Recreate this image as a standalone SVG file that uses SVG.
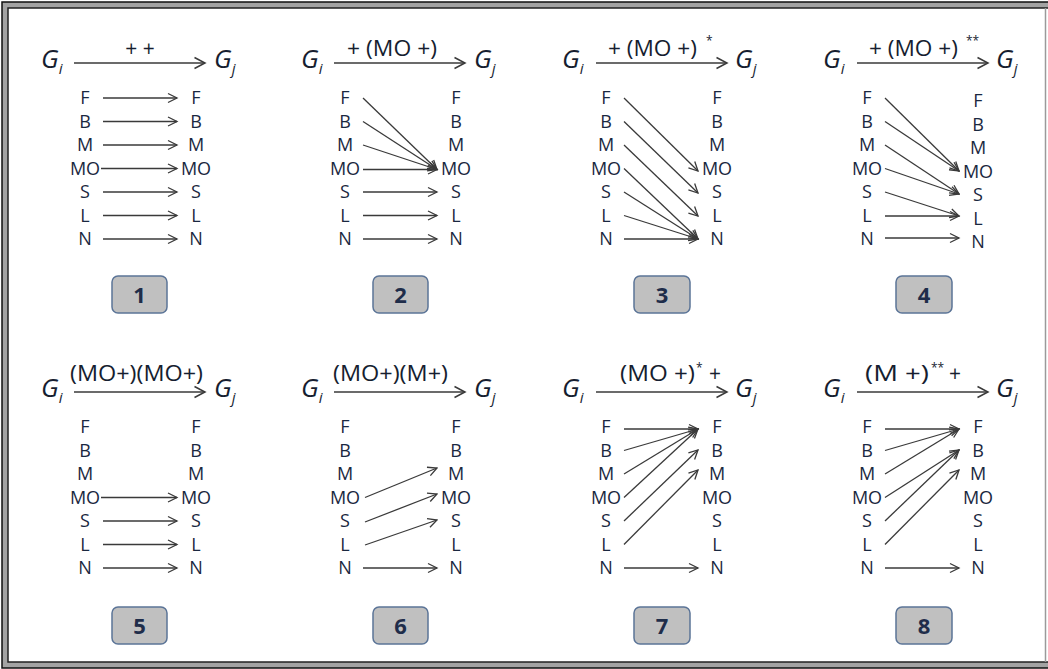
<svg xmlns="http://www.w3.org/2000/svg" width="1048" height="669" viewBox="0 0 1048 669">
<style>
.lt{font-family:"Open Sans","Liberation Sans",sans-serif;font-size:18px;fill:#1a2840;text-anchor:middle}
.g{font-family:"Open Sans","Liberation Sans",sans-serif;font-size:26px;font-style:italic;fill:#161e30}
.sub{font-size:15px}
.lab{font-family:"Open Sans","Liberation Sans",sans-serif;font-size:21px;fill:#161e30}
.sup{font-family:"Open Sans","Liberation Sans",sans-serif;font-size:12px;fill:#161e30}
.box{fill:#c0c0c0;stroke:#5b7497;stroke-width:1.5}
.num{font-family:"Open Sans","Liberation Sans",sans-serif;font-size:22px;font-weight:bold;fill:#1f2d4a;text-anchor:middle}
.c{stroke:#3a3a3a;stroke-width:1.3;fill:none;marker-end:url(#ah)}
.m{stroke:#3a3a3a;stroke-width:1.5;fill:none;marker-end:url(#ahm)}
</style>
<defs>
<marker id="ah" markerUnits="userSpaceOnUse" viewBox="0 0 12 12" refX="10.5" refY="6" markerWidth="12" markerHeight="12" orient="auto">
<path d="M1.5,1.5 L10.5,6 L1.5,10.5" fill="none" stroke="#3a3a3a" stroke-width="1.3"/>
</marker>
<marker id="ahm" markerUnits="userSpaceOnUse" viewBox="0 0 14 14" refX="12" refY="7" markerWidth="14" markerHeight="14" orient="auto">
<path d="M1.5,1.5 L12,7 L1.5,12.5" fill="none" stroke="#3a3a3a" stroke-width="1.5"/>
</marker>
</defs>
<rect x="0" y="0" width="1048" height="669" fill="#ffffff"/>
<g id="frame">
<rect x="5" y="5" width="1100" height="660" fill="none" stroke="#a3a3a3" stroke-width="6"/>
<rect x="2" y="2" width="1100" height="666" fill="none" stroke="#111" stroke-width="1.5"/>
<path d="M1048,8 H8 V662 H1048" fill="none" stroke="#222" stroke-width="1.5"/>
<line x1="1045.5" y1="8" x2="1045.5" y2="662" stroke="#9a9a9a" stroke-width="1.5"/>
</g>

<g id="panel1">
<text class="g" x="41" y="68">G<tspan class="sub" dy="6">i</tspan></text>
<text class="g" x="214" y="68">G<tspan class="sub" dy="6">j</tspan></text>
<text class="lab" x="140" y="56" text-anchor="middle">+ +</text>
<text class="lt" x="85" y="104">F</text><text class="lt" x="85" y="127.5">B</text><text class="lt" x="85" y="151">M</text><text class="lt" x="85" y="174.5">MO</text><text class="lt" x="85" y="198">S</text><text class="lt" x="85" y="221.5">L</text><text class="lt" x="85" y="245">N</text>
<text class="lt" x="196" y="104">F</text><text class="lt" x="196" y="127.5">B</text><text class="lt" x="196" y="151">M</text><text class="lt" x="196" y="174.5">MO</text><text class="lt" x="196" y="198">S</text><text class="lt" x="196" y="221.5">L</text><text class="lt" x="196" y="245">N</text>
<rect class="box" x="112" y="276" width="55" height="37" rx="6"/>
<text class="num" x="139.5" y="302.5">1</text>
</g>

<g id="panel2">
<text class="g" x="301" y="68">G<tspan class="sub" dy="6">i</tspan></text>
<text class="g" x="474" y="68">G<tspan class="sub" dy="6">j</tspan></text>
<text class="lab" x="347" y="56" textLength="90" lengthAdjust="spacingAndGlyphs">+ (MO +)</text>
<text class="lt" x="345" y="104">F</text><text class="lt" x="345" y="127.5">B</text><text class="lt" x="345" y="151">M</text><text class="lt" x="345" y="174.5">MO</text><text class="lt" x="345" y="198">S</text><text class="lt" x="345" y="221.5">L</text><text class="lt" x="345" y="245">N</text>
<text class="lt" x="456" y="104">F</text><text class="lt" x="456" y="127.5">B</text><text class="lt" x="456" y="151">M</text><text class="lt" x="456" y="174.5">MO</text><text class="lt" x="456" y="198">S</text><text class="lt" x="456" y="221.5">L</text><text class="lt" x="456" y="245">N</text>
<rect class="box" x="373" y="276" width="55" height="37" rx="6"/>
<text class="num" x="400.5" y="302.5">2</text>
</g>

<g id="panel3">
<text class="g" x="562" y="68">G<tspan class="sub" dy="6">i</tspan></text>
<text class="g" x="735" y="68">G<tspan class="sub" dy="6">j</tspan></text>
<text class="lab" x="608" y="56" textLength="89" lengthAdjust="spacingAndGlyphs">+ (MO +)</text>
<text class="sup" x="706" y="45">*</text>
<text class="lt" x="606" y="104">F</text><text class="lt" x="606" y="127.5">B</text><text class="lt" x="606" y="151">M</text><text class="lt" x="606" y="174.5">MO</text><text class="lt" x="606" y="198">S</text><text class="lt" x="606" y="221.5">L</text><text class="lt" x="606" y="245">N</text>
<text class="lt" x="717" y="104">F</text><text class="lt" x="717" y="127.5">B</text><text class="lt" x="717" y="151">M</text><text class="lt" x="717" y="174.5">MO</text><text class="lt" x="717" y="198">S</text><text class="lt" x="717" y="221.5">L</text><text class="lt" x="717" y="245">N</text>
<rect class="box" x="634" y="276" width="56" height="37" rx="6"/>
<text class="num" x="662" y="302.5">3</text>
</g>

<g id="panel4">
<text class="g" x="823" y="68">G<tspan class="sub" dy="6">i</tspan></text>
<text class="g" x="996" y="68">G<tspan class="sub" dy="6">j</tspan></text>
<text class="lab" x="869" y="56" textLength="89" lengthAdjust="spacingAndGlyphs">+ (MO +)</text>
<text class="sup" x="966" y="45">**</text>
<text class="lt" x="867" y="104">F</text><text class="lt" x="867" y="127.5">B</text><text class="lt" x="867" y="151">M</text><text class="lt" x="867" y="174.5">MO</text><text class="lt" x="867" y="198">S</text><text class="lt" x="867" y="221.5">L</text><text class="lt" x="867" y="245">N</text>
<text class="lt" x="978" y="107">F</text><text class="lt" x="978" y="130.5">B</text><text class="lt" x="978" y="154">M</text><text class="lt" x="978" y="177.5">MO</text><text class="lt" x="978" y="201">S</text><text class="lt" x="978" y="224.5">L</text><text class="lt" x="978" y="248">N</text>
<rect class="box" x="896" y="276" width="56" height="37" rx="6"/>
<text class="num" x="924" y="302.5">4</text>
</g>

<g id="panel5">
<text class="g" x="41" y="397">G<tspan class="sub" dy="6">i</tspan></text>
<text class="g" x="214" y="397">G<tspan class="sub" dy="6">j</tspan></text>
<text class="lab" x="70" y="381" textLength="133" lengthAdjust="spacingAndGlyphs">(MO+)(MO+)</text>
<text class="lt" x="85" y="433">F</text><text class="lt" x="85" y="456.5">B</text><text class="lt" x="85" y="480">M</text><text class="lt" x="85" y="503.5">MO</text><text class="lt" x="85" y="527">S</text><text class="lt" x="85" y="550.5">L</text><text class="lt" x="85" y="574">N</text>
<text class="lt" x="196" y="433">F</text><text class="lt" x="196" y="456.5">B</text><text class="lt" x="196" y="480">M</text><text class="lt" x="196" y="503.5">MO</text><text class="lt" x="196" y="527">S</text><text class="lt" x="196" y="550.5">L</text><text class="lt" x="196" y="574">N</text>
<rect class="box" x="112" y="607" width="55" height="37" rx="6"/>
<text class="num" x="139.5" y="633.5">5</text>
</g>

<g id="panel6">
<text class="g" x="301" y="397">G<tspan class="sub" dy="6">i</tspan></text>
<text class="g" x="474" y="397">G<tspan class="sub" dy="6">j</tspan></text>
<text class="lab" x="333" y="381" textLength="115" lengthAdjust="spacingAndGlyphs">(MO+)(M+)</text>
<text class="lt" x="345" y="433">F</text><text class="lt" x="345" y="456.5">B</text><text class="lt" x="345" y="480">M</text><text class="lt" x="345" y="503.5">MO</text><text class="lt" x="345" y="527">S</text><text class="lt" x="345" y="550.5">L</text><text class="lt" x="345" y="574">N</text>
<text class="lt" x="456" y="433">F</text><text class="lt" x="456" y="456.5">B</text><text class="lt" x="456" y="480">M</text><text class="lt" x="456" y="503.5">MO</text><text class="lt" x="456" y="527">S</text><text class="lt" x="456" y="550.5">L</text><text class="lt" x="456" y="574">N</text>
<rect class="box" x="373" y="607" width="55" height="37" rx="6"/>
<text class="num" x="400.5" y="633.5">6</text>
</g>

<g id="panel7">
<text class="g" x="562" y="397">G<tspan class="sub" dy="6">i</tspan></text>
<text class="g" x="735" y="397">G<tspan class="sub" dy="6">j</tspan></text>
<text class="lab" x="620" y="381" textLength="75" lengthAdjust="spacingAndGlyphs">(MO +)</text>
<text class="sup" x="696" y="372">*</text>
<text class="lab" x="709" y="381">+</text>
<text class="lt" x="606" y="433">F</text><text class="lt" x="606" y="456.5">B</text><text class="lt" x="606" y="480">M</text><text class="lt" x="606" y="503.5">MO</text><text class="lt" x="606" y="527">S</text><text class="lt" x="606" y="550.5">L</text><text class="lt" x="606" y="574">N</text>
<text class="lt" x="717" y="433">F</text><text class="lt" x="717" y="456.5">B</text><text class="lt" x="717" y="480">M</text><text class="lt" x="717" y="503.5">MO</text><text class="lt" x="717" y="527">S</text><text class="lt" x="717" y="550.5">L</text><text class="lt" x="717" y="574">N</text>
<rect class="box" x="634" y="607" width="56" height="37" rx="6"/>
<text class="num" x="662" y="633.5">7</text>
</g>

<g id="panel8">
<text class="g" x="823" y="397">G<tspan class="sub" dy="6">i</tspan></text>
<text class="g" x="996" y="397">G<tspan class="sub" dy="6">j</tspan></text>
<text class="lab" x="865" y="381" textLength="64" lengthAdjust="spacingAndGlyphs">(M +)</text>
<text class="sup" x="931" y="372">**</text>
<text class="lab" x="949" y="381">+</text>
<text class="lt" x="867" y="433">F</text><text class="lt" x="867" y="456.5">B</text><text class="lt" x="867" y="480">M</text><text class="lt" x="867" y="503.5">MO</text><text class="lt" x="867" y="527">S</text><text class="lt" x="867" y="550.5">L</text><text class="lt" x="867" y="574">N</text>
<text class="lt" x="978" y="433">F</text><text class="lt" x="978" y="456.5">B</text><text class="lt" x="978" y="480">M</text><text class="lt" x="978" y="503.5">MO</text><text class="lt" x="978" y="527">S</text><text class="lt" x="978" y="550.5">L</text><text class="lt" x="978" y="574">N</text>
<rect class="box" x="896" y="607" width="56" height="37" rx="6"/>
<text class="num" x="924" y="633.5">8</text>
</g>

<g id="connectors">
<line class="m" x1="74" y1="63" x2="205" y2="63"/>
<line class="m" x1="334" y1="63" x2="465" y2="63"/>
<line class="m" x1="596" y1="63" x2="727" y2="63"/>
<line class="m" x1="857" y1="63" x2="988" y2="63"/>
<line class="m" x1="74" y1="392" x2="205" y2="392"/>
<line class="m" x1="334" y1="392" x2="465" y2="392"/>
<line class="m" x1="596" y1="392" x2="727" y2="392"/>
<line class="m" x1="857" y1="392" x2="988" y2="392"/>
<line class="c" x1="103" y1="98" x2="177" y2="98"/>
<line class="c" x1="103" y1="121.5" x2="177" y2="121.5"/>
<line class="c" x1="103" y1="145" x2="177" y2="145"/>
<line class="c" x1="101" y1="168.5" x2="177" y2="168.5"/>
<line class="c" x1="103" y1="192" x2="177" y2="192"/>
<line class="c" x1="103" y1="215.5" x2="177" y2="215.5"/>
<line class="c" x1="103" y1="239" x2="177" y2="239"/>
<line class="c" x1="363" y1="98" x2="437" y2="169.5"/>
<line class="c" x1="363" y1="121.5" x2="437" y2="169.5"/>
<line class="c" x1="363" y1="145" x2="437" y2="169.5"/>
<line class="c" x1="363" y1="169.5" x2="437" y2="169.5"/>
<line class="c" x1="363" y1="192" x2="437" y2="192"/>
<line class="c" x1="363" y1="215.5" x2="437" y2="215.5"/>
<line class="c" x1="363" y1="239" x2="437" y2="239"/>
<line class="c" x1="624" y1="98" x2="698" y2="171"/>
<line class="c" x1="624" y1="121.5" x2="698" y2="193"/>
<line class="c" x1="624" y1="145" x2="698" y2="216"/>
<line class="c" x1="624" y1="168.5" x2="698" y2="239"/>
<line class="c" x1="624" y1="192" x2="698" y2="239"/>
<line class="c" x1="624" y1="215.5" x2="698" y2="239"/>
<line class="c" x1="624" y1="239" x2="698" y2="239"/>
<line class="c" x1="885" y1="98" x2="959" y2="171"/>
<line class="c" x1="885" y1="121.5" x2="959" y2="171"/>
<line class="c" x1="885" y1="145" x2="959" y2="194"/>
<line class="c" x1="885" y1="168.5" x2="959" y2="194"/>
<line class="c" x1="885" y1="192" x2="959" y2="216"/>
<line class="c" x1="885" y1="216" x2="959" y2="216"/>
<line class="c" x1="885" y1="238" x2="959" y2="238"/>
<line class="c" x1="101" y1="497.5" x2="177" y2="497.5"/>
<line class="c" x1="103" y1="521" x2="177" y2="521"/>
<line class="c" x1="103" y1="544.5" x2="177" y2="544.5"/>
<line class="c" x1="103" y1="568" x2="177" y2="568"/>
<line class="c" x1="365" y1="497.5" x2="437" y2="468"/>
<line class="c" x1="365" y1="522" x2="437" y2="494"/>
<line class="c" x1="365" y1="545" x2="437" y2="520"/>
<line class="c" x1="363" y1="568" x2="437" y2="568"/>
<line class="c" x1="624" y1="429" x2="698" y2="429"/>
<line class="c" x1="624" y1="450.5" x2="698" y2="429"/>
<line class="c" x1="624" y1="474" x2="698" y2="429"/>
<line class="c" x1="624" y1="497.5" x2="698" y2="429"/>
<line class="c" x1="624" y1="521" x2="698" y2="450"/>
<line class="c" x1="624" y1="544.5" x2="698" y2="470"/>
<line class="c" x1="624" y1="568" x2="698" y2="568"/>
<line class="c" x1="885" y1="429" x2="959" y2="429"/>
<line class="c" x1="885" y1="450.5" x2="959" y2="429"/>
<line class="c" x1="885" y1="474" x2="959" y2="429"/>
<line class="c" x1="885" y1="497.5" x2="959" y2="450"/>
<line class="c" x1="885" y1="521" x2="959" y2="450"/>
<line class="c" x1="885" y1="544.5" x2="959" y2="470"/>
<line class="c" x1="885" y1="568" x2="959" y2="568"/>
</g>
</svg>
